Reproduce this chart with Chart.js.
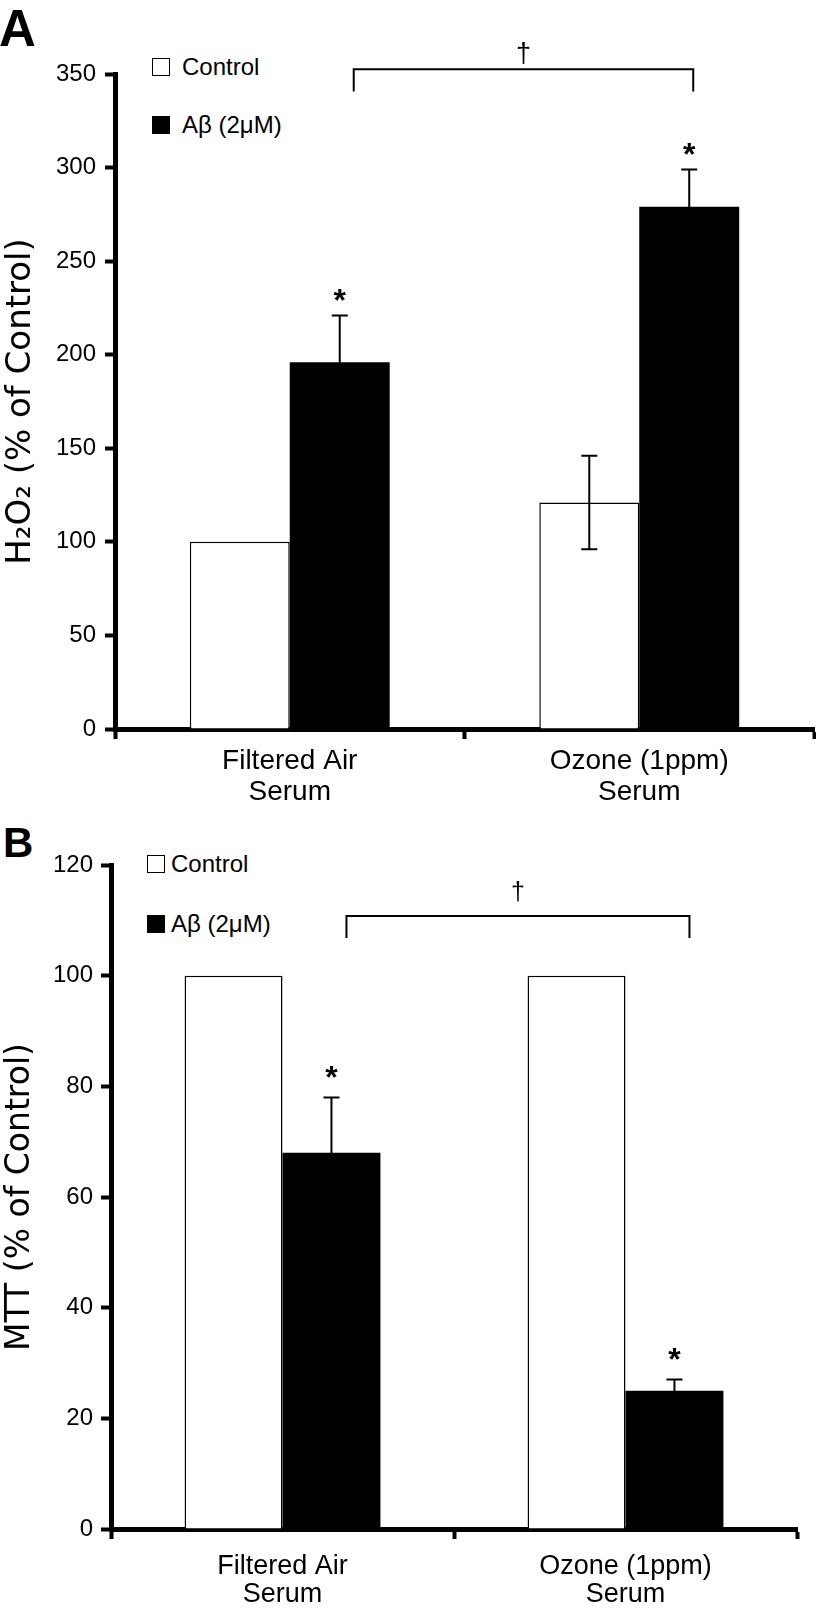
<!DOCTYPE html>
<html>
<head>
<meta charset="utf-8">
<script src="https://cdn.jsdelivr.net/npm/chart.js@4.4.0/dist/chart.umd.min.js"></script>
<style>
  body { margin:0; background:#fff; width:816px; height:1615px; position:relative; overflow:hidden;
         font-family:"Liberation Sans", Arial, sans-serif; color:#000; }
  canvas { position:absolute; left:0; }
  #chartA { top:0; }
  #chartB { top:815px; }
  .panel { position:absolute; font-weight:bold; line-height:1; }
  .lg { position:absolute; height:24px; line-height:24px; font-size:24px; display:flex; align-items:center; white-space:nowrap; }
  .sw { display:inline-block; box-sizing:border-box; border:1.5px solid #000; width:18px; height:18px; background:#fff; }
  .sw.dark { background:#000; }
</style>
</head>
<body>
<div class="panel" style="left:-1px;top:3px;font-size:51px">A</div>
<div class="panel" style="left:3px;top:822px;font-size:42px">B</div>

<div class="lg" style="left:152px;top:55px"><span class="sw"></span><span style="margin-left:12px">Control</span></div>
<div class="lg" style="left:152px;top:113px"><span class="sw dark"></span><span style="margin-left:12px">Aβ (2μM)</span></div>
<div class="lg" style="left:147px;top:852px"><span class="sw"></span><span style="margin-left:6px">Control</span></div>
<div class="lg" style="left:147px;top:912px"><span class="sw dark"></span><span style="margin-left:6px">Aβ (2μM)</span></div>

<canvas id="chartA" width="816" height="815"></canvas>
<canvas id="chartB" width="816" height="800"></canvas>

<script>
// === DATA ===
const categories = [['Filtered Air', 'Serum'], ['Ozone (1ppm)', 'Serum']];
const seriesNames = ['Control', 'Aβ (2μM)'];

// panel A: H2O2
const h2o2Control = [100, 121];
const h2o2Abeta = [196, 279];
const h2o2ControlErr = [0, 25];
const h2o2AbetaErr = [25, 20];
const h2o2Stars = [[false, false], [true, true]];
const h2o2Ticks = [0, 50, 100, 150, 200, 250, 300, 350];

// panel B: MTT
const mttControl = [100, 100];
const mttAbeta = [68, 25];
const mttControlErr = [0, 0];
const mttAbetaErr = [10, 2];
const mttStars = [[false, false], [true, true]];
const mttTicks = [0, 20, 40, 60, 80, 100, 120];

const FONT = '"Liberation Sans", Arial, sans-serif';
Chart.defaults.color = '#000';
Chart.defaults.font.family = FONT;

// error bars, stars, bracket with dagger
const annotate = {
  id: 'annotate',
  afterDatasetsDraw(chart, args, opts) {
    const ctx = chart.ctx, y = chart.scales.y;
    ctx.save();
    ctx.strokeStyle = '#000';
    ctx.fillStyle = '#000';
    ctx.lineWidth = 2;
    opts.errors.forEach((errs, di) => {
      const meta = chart.getDatasetMeta(di);
      const vals = chart.data.datasets[di].data;
      errs.forEach((e, j) => {
        if (!e) return;
        const x = meta.data[j].x;
        const top = y.getPixelForValue(vals[j] + e);
        const bot = y.getPixelForValue(vals[j] - e);
        ctx.beginPath();
        ctx.moveTo(x, top); ctx.lineTo(x, bot);
        ctx.moveTo(x - opts.cap, top); ctx.lineTo(x + opts.cap, top);
        ctx.moveTo(x - opts.cap, bot); ctx.lineTo(x + opts.cap, bot);
        ctx.stroke();
        if (opts.stars[di][j]) {
          ctx.font = 'bold 32px ' + FONT;
          ctx.textAlign = 'center';
          ctx.textBaseline = 'alphabetic';
          ctx.fillText('*', x, top - opts.starGap + 0.55 * 32);
        }
      });
    });
    // bracket between the two Abeta bars
    const b = opts.bracket;
    const m = chart.getDatasetMeta(1);
    const x1 = m.data[0].x + b.dx1, x2 = m.data[1].x + b.dx2;
    const yt = y.getPixelForValue(b.top), yb = y.getPixelForValue(b.bottom);
    ctx.beginPath();
    ctx.moveTo(x1, yb); ctx.lineTo(x1, yt); ctx.lineTo(x2, yt); ctx.lineTo(x2, yb);
    ctx.stroke();
    ctx.font = b.daggerSize + 'px ' + FONT;
    ctx.textAlign = 'center';
    ctx.textBaseline = 'alphabetic';
    ctx.fillText('†', (x1 + x2) / 2, y.getPixelForValue(b.dagger) + 0.3 * b.daggerSize);
    ctx.restore();
  }
};

function makeChart(el, p) {
  return new Chart(el, {
    type: 'bar',
    data: {
      labels: categories,
      datasets: [
        { label: seriesNames[0], data: p.control, backgroundColor: '#fff', borderColor: '#000', borderWidth: 1.5 },
        { label: seriesNames[1], data: p.abeta, backgroundColor: '#000', borderColor: '#000', borderWidth: 0 }
      ]
    },
    options: {
      responsive: false,
      animation: false,
      devicePixelRatio: 1,
      categoryPercentage: p.catPct,
      barPercentage: 1,
      layout: { padding: p.padding },
      plugins: {
        legend: { display: false },
        tooltip: { enabled: false },
        annotate: p.annot
      },
      scales: {
        x: {
          z: 1,
          grid: { offset: true, drawOnChartArea: false, drawTicks: true, tickLength: 10, tickWidth: 4, tickColor: '#000' },
          border: { display: true, color: '#000', width: 5 },
          ticks: { font: { size: p.xFont, lineHeight: p.xLine }, padding: p.xPad, color: '#000', maxRotation: 0 },
          afterFit: s => { s.height = 80; }
        },
        y: {
          z: 1,
          min: p.ticks[0],
          max: p.ticks[p.ticks.length - 1],
          afterBuildTicks: s => { s.ticks = p.ticks.map(v => ({ value: v })); },
          grid: { drawOnChartArea: false, drawTicks: true, tickLength: 10, tickWidth: 4, tickColor: '#000' },
          border: { display: true, color: '#000', width: 5 },
          ticks: { font: { size: 24 }, padding: p.yPad, color: '#000' },
          title: { display: true, text: p.title, color: '#000', padding: { top: 0, bottom: 0 },
                   font: { family: '"DejaVu Sans", sans-serif', size: p.titleSize, lineHeight: 1.25 } },
          afterFit: s => { s.width = p.yWidth; }
        }
      }
    },
    plugins: [annotate]
  });
}

makeChart(document.getElementById('chartA'), {
  control: h2o2Control, abeta: h2o2Abeta, ticks: h2o2Ticks,
  title: 'H₂O₂ (% of Control)', titleSize: 34,
  catPct: 0.572, yWidth: 115, yPad: 9,
  padding: { top: 74, right: 2, bottom: 6, left: 0 },
  xFont: 28, xLine: 1.1, xPad: 7,
  annot: {
    errors: [h2o2ControlErr, h2o2AbetaErr], stars: h2o2Stars, cap: 8, starGap: 22,
    bracket: { dx1: 14, dx2: 4, top: 352.5, bottom: 340.7, dagger: 361, daggerSize: 27 }
  }
});

makeChart(document.getElementById('chartB'), {
  control: mttControl, abeta: mttAbeta, ticks: mttTicks,
  title: 'MTT (% of Control)', titleSize: 33,
  catPct: 0.571, yWidth: 111, yPad: 8,
  padding: { top: 50, right: 19, bottom: 6, left: 0 },
  xFont: 27, xLine: 1.05, xPad: 13,
  annot: {
    errors: [mttControlErr, mttAbetaErr], stars: mttStars, cap: 8, starGap: 27,
    bracket: { dx1: 15, dx2: 15, top: 110.8, bottom: 106.8, dagger: 115, daggerSize: 25 }
  }
});
</script>
</body>
</html>
